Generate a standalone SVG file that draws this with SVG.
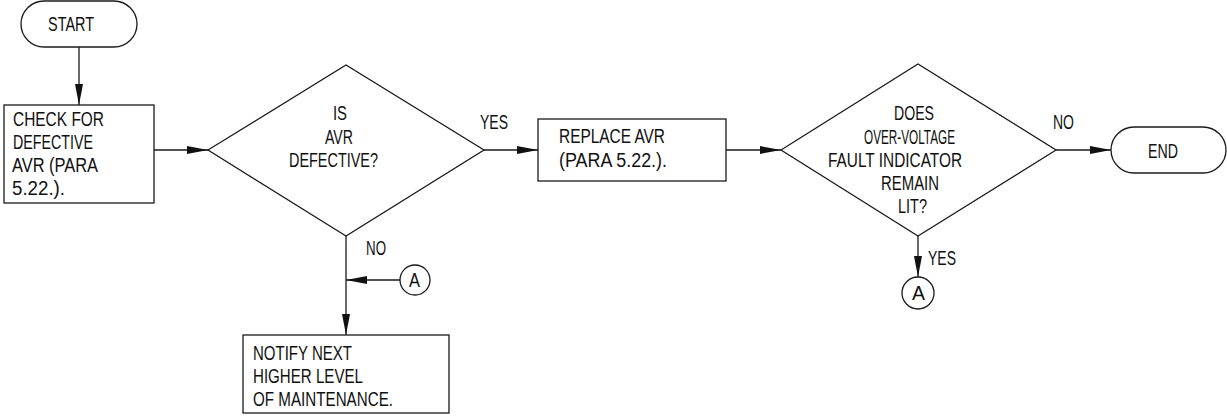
<svg xmlns="http://www.w3.org/2000/svg" width="1227" height="416" viewBox="0 0 1227 416">
<style>
.s{fill:#fff;stroke:#1a1a1a;stroke-width:1.3}
.c{fill:none;stroke:#1a1a1a;stroke-width:1.3}
text{font-family:"Liberation Sans","DejaVu Sans",sans-serif;font-size:20px;fill:#111}
</style>
<defs>
<marker id="ah" markerUnits="userSpaceOnUse" markerWidth="21" markerHeight="8" refX="21" refY="4" orient="auto">
<path d="M0,0 L21,4 L0,8 Z" fill="#111"/>
</marker>
</defs>
<rect width="1227" height="416" fill="#fff"/>
<g id="connectors">
<line class="c" x1="79" y1="47" x2="79" y2="105" marker-end="url(#ah)"/>
<line class="c" x1="154" y1="150" x2="208" y2="150" marker-end="url(#ah)"/>
<line class="c" x1="484" y1="150" x2="538" y2="150" marker-end="url(#ah)"/>
<line class="c" x1="726" y1="150" x2="781" y2="150" marker-end="url(#ah)"/>
<line class="c" x1="1056" y1="150" x2="1111" y2="150" marker-end="url(#ah)"/>
<line class="c" x1="918" y1="236" x2="918" y2="277" marker-end="url(#ah)"/>
<line class="c" x1="346" y1="236" x2="346" y2="335" marker-end="url(#ah)"/>
<line class="c" x1="400" y1="280" x2="346" y2="280" marker-end="url(#ah)"/>
<text x="480" y="129" textLength="28" lengthAdjust="spacingAndGlyphs">YES</text>
<text x="1053" y="129" textLength="21" lengthAdjust="spacingAndGlyphs">NO</text>
<text x="928" y="265" textLength="28" lengthAdjust="spacingAndGlyphs">YES</text>
<text x="366" y="255" textLength="20" lengthAdjust="spacingAndGlyphs">NO</text>
</g>
<g id="start">
<rect class="s" x="21" y="1" width="116" height="46" rx="23" ry="23"/>
<text x="48" y="31" textLength="46" lengthAdjust="spacingAndGlyphs">START</text>
</g>
<g id="check">
<rect class="s" x="4" y="105" width="150" height="98"/>
<text><tspan x="13" y="126" textLength="91" lengthAdjust="spacingAndGlyphs">CHECK FOR</tspan><tspan x="13" y="149" textLength="80" lengthAdjust="spacingAndGlyphs">DEFECTIVE</tspan><tspan x="12" y="172" textLength="86" lengthAdjust="spacingAndGlyphs">AVR (PARA</tspan><tspan x="12" y="195" textLength="53" lengthAdjust="spacingAndGlyphs">5.22.).</tspan></text>
</g>
<g id="decision1">
<polygon class="s" points="208,150 346,65 484,150 346,236"/>
<text><tspan x="333" y="120" textLength="14" lengthAdjust="spacingAndGlyphs">IS</tspan><tspan x="325" y="144" textLength="28" lengthAdjust="spacingAndGlyphs">AVR</tspan><tspan x="289" y="167" textLength="89" lengthAdjust="spacingAndGlyphs">DEFECTIVE?</tspan></text>
</g>
<g id="replace">
<rect class="s" x="538" y="119" width="188" height="62"/>
<text><tspan x="559" y="143" textLength="106" lengthAdjust="spacingAndGlyphs">REPLACE AVR</tspan><tspan x="559" y="167" textLength="108" lengthAdjust="spacingAndGlyphs">(PARA 5.22.).</tspan></text>
</g>
<g id="decision2">
<polygon class="s" points="781,150 918,64 1056,150 918,236"/>
<text><tspan x="894" y="120" textLength="40" lengthAdjust="spacingAndGlyphs">DOES</tspan><tspan x="864" y="144" textLength="91" lengthAdjust="spacingAndGlyphs">OVER-VOLTAGE</tspan><tspan x="828" y="167" textLength="134" lengthAdjust="spacingAndGlyphs">FAULT INDICATOR</tspan><tspan x="881" y="190" textLength="58" lengthAdjust="spacingAndGlyphs">REMAIN</tspan><tspan x="898" y="213" textLength="29" lengthAdjust="spacingAndGlyphs">LIT?</tspan></text>
</g>
<g id="end">
<rect class="s" x="1111" y="127" width="115" height="46" rx="23" ry="23"/>
<text x="1148" y="158" textLength="30" lengthAdjust="spacingAndGlyphs">END</text>
</g>
<g id="connectorA2">
<circle class="s" cx="918" cy="293" r="16"/>
<text x="912" y="300" textLength="13" lengthAdjust="spacingAndGlyphs">A</text>
</g>
<g id="connectorA1">
<circle class="s" cx="415" cy="280" r="15"/>
<text x="409" y="287" textLength="11" lengthAdjust="spacingAndGlyphs">A</text>
</g>
<g id="notify">
<rect class="s" x="243" y="335" width="206" height="78"/>
<text><tspan x="253" y="360" textLength="99" lengthAdjust="spacingAndGlyphs">NOTIFY NEXT</tspan><tspan x="253" y="383" textLength="110" lengthAdjust="spacingAndGlyphs">HIGHER LEVEL</tspan><tspan x="253" y="406" textLength="140" lengthAdjust="spacingAndGlyphs">OF MAINTENANCE.</tspan></text>
</g>
</svg>
